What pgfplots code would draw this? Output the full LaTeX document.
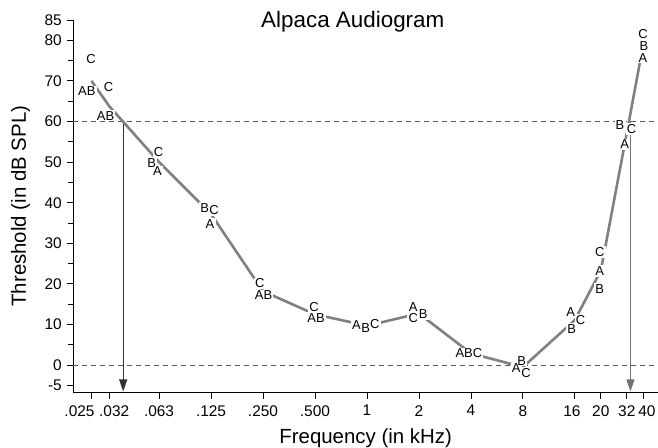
\documentclass[border=0pt]{standalone}
\usepackage{pgfplots}
\pgfplotsset{compat=1.18}
\usepackage{pgfplotstable}
\usepackage{fontspec}
\setmainfont{Liberation Sans}
\usetikzlibrary{arrows.meta}

\pgfplotstableread{
x y
-5.3 70.0
-4.96 63.8
-4 50.0
-3 37.2
-2 18.2
-1 12.5
0 9.7
1 12.7
2 2.9
3 -0.5
4 11.1
4.5 23.3
5 57.2
5.31 78.6
}\meanline

\pgfplotstableread{
x y lab
-5.31 75.3 C
-5.39 67.4 AB
-4.97 68.5 C
-5.03 61.4 AB
-4.01 52.6 C
-4.14 49.8 B
-4.03 47.7 A
-3.12 38.7 B
-2.94 38.2 C
-3.02 34.8 A
-2.06 20.1 C
-1.99 17.2 AB
-1.02 14.3 C
-0.98 11.6 AB
-0.20 9.8 A
-0.025 9.2 B
0.15 10.1 C
0.89 14.2 A
0.89 11.5 C
1.08 12.5 B
1.96 2.9 ABC
2.975 1.1 B
2.87 -0.8 A
3.06 -1.9 C
3.92 13.1 A
4.11 11.1 C
3.94 9.0 B
4.48 27.8 C
4.48 23.2 A
4.48 18.8 B
4.87 59.1 B
5.09 58.1 C
4.96 54.4 A
5.31 81.5 C
5.33 78.6 B
5.31 75.7 A
}\labels

\begin{document}
\begin{tikzpicture}
\begin{axis}[
  scale only axis,
  width=584.7bp, height=372.3bp,
  xmin=-5.65, xmax=5.6, ymin=-6.7, ymax=85,
  axis lines*=left,
  axis line style={black, line width=0.9bp},
  clip=false,
  tick align=outside,
  major tick length=6.5bp,
  minor tick length=5bp,
  tick style={black, line width=0.8bp},
  xtick={-5.3,-4.96,-4,-3,-2,-1,0,1,2,3,4,4.5,5,5.31},
  xticklabels={\hspace{-24bp}.025,\hspace{10bp}.032,.063,.125,.250,.500,1,2,4,8,\hspace{-6bp}16,20,32,\hspace{8bp}40},
  ytick={-5,0,10,20,30,40,50,60,70,80,85},
  minor ytick={5,15,25,35,45,55,65,75},
  /pgf/number format/assume math mode=true,
  ticklabel style={font=\fontsize{15.5}{16}\selectfont},
  xticklabel style={yshift=-3bp},
  yticklabel style={xshift=-1.5bp},
  xlabel={Frequency (in kHz)},
  ylabel={Threshold (in dB SPL)},
  label style={font=\fontsize{20.5}{22}\selectfont},
  xlabel style={at={(axis description cs:0.5,0)}, anchor=center, yshift=-45.5bp},
  ylabel style={at={(axis description cs:0,0.5)}, anchor=center, yshift=52.8bp},
]
\addplot[gray!70!black, line width=0.9bp, dash pattern=on 5bp off 4bp] coordinates {(-5.65,60) (5.6,60)};
\addplot[gray!70!black, line width=0.9bp, dash pattern=on 5bp off 4bp] coordinates {(-5.65,0) (5.6,0)};
\addplot[black!80, line width=0.9bp, -{Triangle[length=12bp,width=8bp]}] coordinates {(-4.69,60) (-4.69,-6.5)};
\addplot[black!55, line width=0.9bp, -{Triangle[length=12bp,width=8bp]}] coordinates {(5.07,60) (5.07,-6.5)};
\addplot[black!50, line width=2.6bp] table {\meanline};
\addplot[draw=none, nodes near coords={\phantom{\pgfplotspointmeta}}, point meta=explicit symbolic,
  nodes near coords style={anchor=center, fill=white, inner sep=1.2bp, font=\fontsize{13}{14}\selectfont}]
  table[meta=lab] {\labels};
\addplot[draw=none, nodes near coords, point meta=explicit symbolic,
  nodes near coords style={anchor=center, text=black, inner sep=0bp, font=\fontsize{13}{14}\selectfont}]
  table[meta=lab] {\labels};
\node[font=\fontsize{22.5}{24}\selectfont, anchor=center] at (rel axis cs:0.478,0.995) {Alpaca Audiogram};
\end{axis}
\pgfresetboundingbox
\path[use as bounding box] (-73.3bp,-55.7bp) rectangle (584.7bp,392.3bp);
\end{tikzpicture}
\end{document}
